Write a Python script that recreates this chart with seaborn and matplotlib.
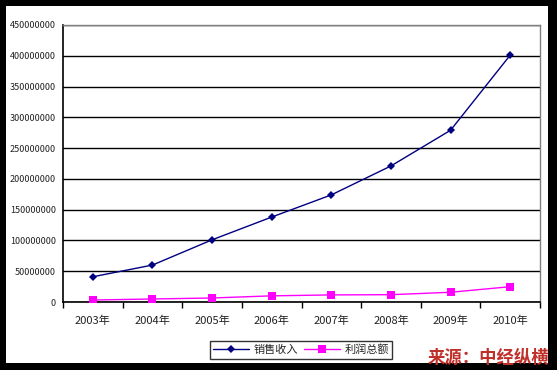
import matplotlib
matplotlib.use("Agg")
import matplotlib.pyplot as plt
import seaborn as sns
import pandas as pd
from matplotlib.patches import Rectangle
from matplotlib.ticker import FixedLocator, FuncFormatter

years = ["2003年", "2004年", "2005年", "2006年", "2007年", "2008年", "2009年", "2010年"]
revenue = [41000000, 60000000, 101000000, 138000000, 174000000, 221000000, 279000000, 401000000]
profit = [3200000, 4900000, 6500000, 10000000, 11500000, 11900000, 15800000, 24900000]
series_names = ["销售收入", "利润总额"]
y_ticks = [0, 50000000, 100000000, 150000000, 200000000, 250000000, 300000000, 350000000, 400000000, 450000000]

sns.set_theme(style="white")
plt.rcParams['font.family'] = ['Noto Sans CJK SC', 'DejaVu Sans']

df = pd.DataFrame({
    "pos": list(range(len(years))) * 2,
    "value": revenue + profit,
    "series": [series_names[0]] * len(years) + [series_names[1]] * len(years),
})

fig = plt.figure(figsize=(5.57, 3.70), dpi=100)
fig.patch.set_facecolor("black")
fig.patches.append(Rectangle((6 / 557, 7 / 370), 542 / 557, 357 / 370,
                             transform=fig.transFigure, facecolor="white",
                             edgecolor="none", zorder=-10))
ax = fig.add_axes([63 / 557, 68 / 370, 477 / 557, 277 / 370])
ax.set_zorder(1)
ax.set_facecolor("white")

sns.lineplot(data=df, x="pos", y="value", hue="series", style="series",
             palette={series_names[0]: "#000080", series_names[1]: "#ff00ff"},
             markers={series_names[0]: "D", series_names[1]: "s"},
             dashes=False, linewidth=1.0, markersize=5, markeredgewidth=0,
             ax=ax, legend=True, zorder=3)
# make diamonds a bit smaller than squares
for line in ax.get_lines():
    if line.get_marker() == "D":
        line.set_markersize(4.5)
    elif line.get_marker() == "s":
        line.set_markersize(6)

ax.set_xlim(-0.5, len(years) - 0.5)
ax.set_ylim(0, 450000000)
ax.yaxis.set_major_locator(FixedLocator(y_ticks))
ax.yaxis.set_major_formatter(FuncFormatter(lambda v, p: f"{int(v)}"))
ax.grid(axis="y", color="black", linewidth=1.0)
ax.set_axisbelow(True)

ax.xaxis.set_major_locator(FixedLocator([i - 0.5 for i in range(len(years) + 1)]))
ax.xaxis.set_major_formatter(FuncFormatter(lambda v, p: ""))
ax.xaxis.set_minor_locator(FixedLocator(list(range(len(years)))))
ax.set_xticks(list(range(len(years))), years, minor=True)
ax.tick_params(axis="x", which="major", length=4, width=1, color="black", direction="out", bottom=True)
ax.tick_params(axis="x", which="minor", length=0, labelsize=8, pad=10, labelcolor="#222222")
ax.tick_params(axis="y", length=0, labelsize=6.5, pad=5, labelcolor="#222222")
ax.set_xlabel("")
ax.set_ylabel("")

for s in ["left", "bottom"]:
    ax.spines[s].set_color("black")
    ax.spines[s].set_linewidth(1.2)
    ax.spines[s].set_visible(True)
for s in ["top", "right"]:
    ax.spines[s].set_color("#808080")
    ax.spines[s].set_linewidth(1.0)
    ax.spines[s].set_visible(True)

handles, labels = ax.get_legend_handles_labels()
ax.legend_.remove()
leg = fig.legend(handles, labels, loc="center", bbox_to_anchor=(301 / 557, 20 / 370),
                 ncol=2, frameon=True, fancybox=False, fontsize=8,
                 handlelength=3.2, handletextpad=0.4, columnspacing=0.6,
                 borderpad=0.3, edgecolor="black", markerscale=0.9)
leg.get_frame().set_linewidth(1.0)

fig.text(549 / 557, 12 / 370, "来源：中经纵横", color="#c0302a", fontsize=12.5,
         fontweight="bold", style="italic", ha="right", va="center")

fig.savefig("out.png", dpi=100, facecolor=fig.get_facecolor())
